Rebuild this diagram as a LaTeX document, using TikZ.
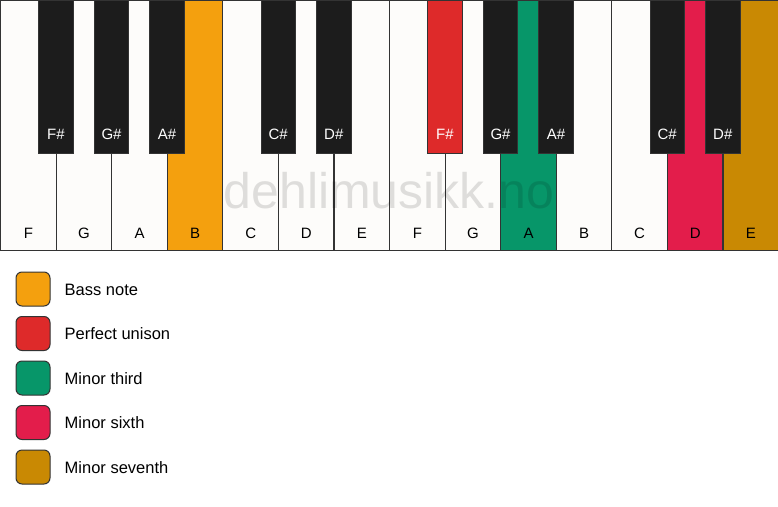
\documentclass[tikz,border=0pt]{standalone}
\usepackage{fontspec}
\setmainfont{Liberation Sans}
\usetikzlibrary{positioning,calc}
\definecolor{keywhite}{HTML}{FDFCFA}
\definecolor{keyblack}{HTML}{1C1C1C}
\definecolor{keyline}{HTML}{333333}
\definecolor{bassnote}{HTML}{F4A00E}
\definecolor{unison}{HTML}{DE2A2A}
\definecolor{minthird}{HTML}{079669}
\definecolor{minsixth}{HTML}{E31D4B}
\definecolor{minseventh}{HTML}{C98903}

\tikzset{
    whitekey/.style={draw=keyline, line width=1.2pt, fill=keywhite, minimum width=55.57pt,
        minimum height=250pt, anchor=north west, inner sep=0pt},
    blackkey/.style={draw=keyline, line width=0.8pt, fill=keyblack, minimum width=34.5pt,
        minimum height=153pt, anchor=north, inner sep=0pt},
    swatch/.style={draw=keyline, line width=1pt, rounded corners=6pt, minimum size=34pt, inner sep=0pt},
    keytext/.style={font=\fontsize{15}{18}\selectfont, anchor=base, inner sep=0pt},
}

\begin{document}
\begin{tikzpicture}[x=1pt, y=-1pt]
\useasboundingbox (0,0) rectangle (778,506);
\fill[white] (0,0) rectangle (778,506);

% white keys
\foreach \i/\n/\c in {0/F/keywhite,1/G/keywhite,2/A/keywhite,3/B/bassnote,4/C/keywhite,
    5/D/keywhite,6/E/keywhite,7/F/keywhite,8/G/keywhite,9/A/minthird,10/B/keywhite,
    11/C/keywhite,12/D/minsixth,13/E/minseventh}{
    \path (55.57*\i, 0) node[whitekey, fill=\c] (w-\i) {};
    \path (w-\i.south) ++(0,-13) node[keytext] (wl-\i) {\n};
}

% watermark
\path (389, 208) node[anchor=base, text=black, text opacity=0.12,
    font=\fontsize{50}{50}\selectfont] (mark) {dehlimusikk.no};

% black keys
\foreach \i/\n/\c/\t in {0/F\#/keyblack/white,1/G\#/keyblack/white,2/A\#/keyblack/white,
    4/C\#/keyblack/white,5/D\#/keyblack/white,7/F\#/unison/white,8/G\#/keyblack/white,
    9/A\#/keyblack/white,11/C\#/keyblack/white,12/D\#/keyblack/white}{
    \path (w-\i.north east) ++(-0.8,0) node[blackkey, fill=\c] (b-\i) {};
    \path (b-\i.south) ++(0,-14) node[keytext, text=\t] (bl-\i) {\n};
}

% legend
\foreach \k/\c/\t in {0/bassnote/Bass note,1/unison/Perfect unison,2/minthird/Minor third,
    3/minsixth/Minor sixth,4/minseventh/Minor seventh}{
    \path (33, 289+44.5*\k) node[swatch, fill=\c] (s-\k) {};
    \node[right=14pt of s-\k, inner sep=0pt, text height=12pt, text depth=0pt,
        font=\fontsize{16.5}{20}\selectfont] (t-\k) {\t};
}
\end{tikzpicture}
\end{document}
